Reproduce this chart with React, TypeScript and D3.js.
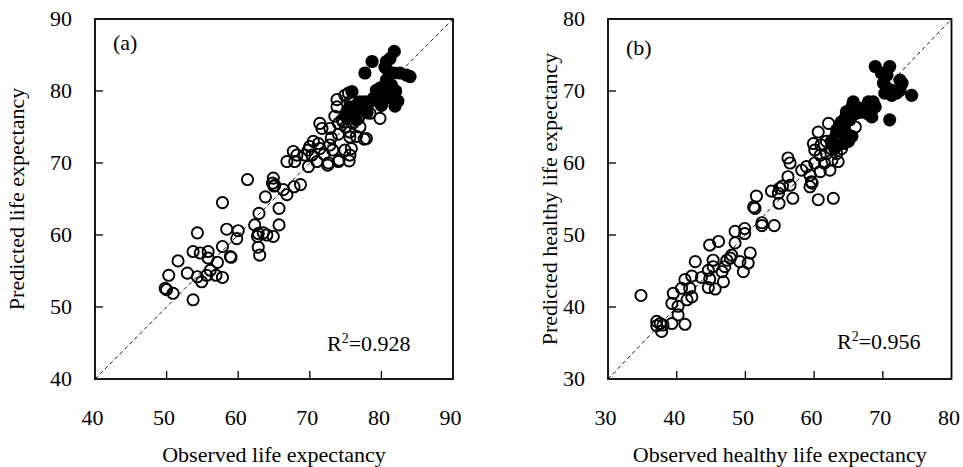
import { scaleLinear } from "d3";

type Pt = [number, number];

// panel (a): life expectancy, [observed, predicted]
const leOpen: Pt[] = [
  [49.8, 52.6], [50.0, 52.4], [50.9, 51.9], [53.7, 51.0], [50.3, 54.4], [51.6, 56.4],
  [52.9, 54.7], [54.3, 54.2], [54.9, 53.5], [56.1, 55.1], [55.6, 54.4], [56.9, 54.4],
  [57.8, 54.1], [53.7, 57.7], [54.7, 57.5], [55.8, 57.7], [55.8, 56.8], [57.1, 56.2],
  [58.9, 57.0], [59.0, 56.9], [57.8, 58.4], [54.3, 60.3], [58.4, 60.8], [60.0, 60.6],
  [59.8, 59.5], [62.8, 60.2], [63.5, 60.3], [64.0, 60.0], [64.9, 59.8], [62.7, 59.8],
  [62.8, 58.3], [63.0, 57.2], [62.3, 61.4], [65.7, 61.4], [62.9, 63.0], [65.7, 63.7],
  [57.8, 64.5], [63.8, 65.3], [61.3, 67.7], [64.8, 67.2], [65.0, 66.8], [66.3, 66.3],
  [66.8, 65.6], [67.8, 66.7], [68.7, 67.0], [64.9, 67.9], [65.1, 66.9],
  [66.8, 70.2], [67.9, 70.2], [67.7, 71.6], [68.2, 71.1], [69.3, 71.1], [69.8, 71.8],
  [70.3, 71.1], [69.8, 69.5], [71.0, 70.2], [71.2, 72.7], [71.4, 72.0], [72.5, 69.7],
  [72.6, 70.0], [72.8, 72.5], [74.1, 70.4], [74.0, 70.2], [75.5, 70.3], [74.9, 71.8],
  [75.8, 72.0], [75.6, 71.1], [71.4, 75.5], [71.7, 74.8], [72.8, 74.8], [74.0, 75.5],
  [74.7, 75.7], [75.6, 74.3], [76.5, 73.7], [77.6, 73.3], [77.9, 73.4], [73.8, 78.8],
  [73.8, 77.8], [75.6, 78.5], [75.4, 79.7], [74.9, 79.4], [78.4, 76.9], [79.8, 76.2],
  [73.5, 76.5], [74.5, 76.0], [75.0, 75.0], [76.0, 75.5], [76.8, 76.2], [73.0, 73.5],
  [74.0, 74.0], [70.5, 73.0], [70.0, 72.3], [72.0, 71.2], [73.2, 71.8], [76.0, 77.0],
  [77.0, 75.0], [75.6, 73.6],
];

const leFilled: Pt[] = [
  [81.8, 85.5], [80.7, 84.1], [78.7, 84.1], [77.7, 82.5], [81.0, 82.7], [80.7, 81.5],
  [81.4, 80.8], [80.3, 80.6], [83.5, 82.2], [84.0, 82.0], [81.7, 82.5], [82.6, 82.5],
  [80.3, 79.7], [81.0, 79.2], [81.7, 78.8], [81.9, 78.5], [79.3, 79.4], [78.9, 79.0],
  [78.4, 78.5], [77.7, 78.5], [75.9, 79.9], [79.8, 80.4], [79.3, 80.1], [77.0, 78.5],
  [76.6, 78.1], [77.2, 77.6], [77.9, 77.4], [75.6, 77.8], [75.4, 77.4], [76.1, 76.9],
  [82.3, 78.6], [81.9, 77.9], [80.5, 83.3], [81.2, 84.5], [82.0, 80.0], [80.0, 78.0],
  [78.0, 77.0], [76.5, 76.0], [75.0, 76.5], [80.5, 79.0],
];

// panel (b): healthy life expectancy, [observed, predicted]
const hleOpen: Pt[] = [
  [34.8, 41.6], [37.1, 38.0], [37.6, 37.7], [38.0, 37.5], [37.8, 36.6], [37.1, 37.4],
  [39.3, 37.7], [41.2, 37.6], [40.2, 38.9], [40.2, 40.1], [39.3, 40.5], [39.5, 41.9],
  [41.5, 41.0], [40.7, 42.6], [41.2, 43.8], [41.9, 42.6], [42.2, 41.4], [42.7, 46.3],
  [42.2, 44.3], [43.6, 44.1], [44.6, 45.1], [44.8, 43.9], [44.6, 42.7], [45.6, 42.5],
  [45.3, 46.5], [45.3, 45.6], [46.6, 44.9], [47.0, 45.6], [47.8, 46.8], [46.8, 43.5],
  [44.8, 48.6], [46.1, 49.1], [48.5, 48.9], [48.5, 50.5], [49.9, 50.9], [49.9, 50.2],
  [49.7, 44.9], [50.4, 46.1], [50.7, 47.5], [49.2, 46.3], [48.0, 47.2], [47.3, 46.5],
  [51.2, 53.9], [51.4, 53.7], [51.6, 55.4], [52.4, 51.7], [52.4, 51.3], [54.2, 51.3],
  [53.8, 56.1], [54.8, 55.8], [55.0, 56.5], [55.4, 56.8], [56.5, 56.9], [54.9, 54.4],
  [56.9, 55.1], [59.4, 56.7], [59.7, 57.2], [60.6, 54.9], [62.8, 55.1], [56.2, 60.7],
  [56.5, 60.0], [56.2, 58.1], [58.2, 59.0], [58.9, 59.5], [59.4, 58.3], [59.6, 57.4],
  [59.9, 62.7], [60.1, 61.8], [60.9, 61.1], [61.8, 63.0], [62.1, 65.5], [60.6, 64.3],
  [61.8, 61.3], [62.3, 59.0], [60.9, 58.8], [60.1, 60.0], [63.3, 61.3], [63.5, 60.2],
  [62.6, 60.4], [61.0, 62.5], [62.5, 62.0], [63.0, 63.5], [64.0, 62.0], [61.5, 60.0],
  [64.5, 64.5], [66.0, 65.0], [63.5, 64.0], [65.0, 66.0],
];

const hleFilled: Pt[] = [
  [68.9, 73.4], [71.0, 73.4], [69.8, 72.5], [70.6, 72.2], [72.5, 71.5], [72.8, 71.1],
  [70.1, 71.1], [70.6, 70.4], [71.3, 70.1], [70.3, 69.7], [71.3, 69.4], [72.0, 69.7],
  [72.5, 70.1], [74.2, 69.4], [71.0, 66.0], [65.7, 68.5], [65.5, 67.8], [67.9, 68.5],
  [68.6, 68.5], [68.9, 67.8], [68.1, 67.4], [67.7, 66.9], [68.4, 66.4], [66.7, 67.6],
  [67.2, 67.1], [64.7, 67.1], [64.5, 66.2], [65.2, 66.0], [65.7, 66.7], [63.8, 65.5],
  [64.3, 64.8], [63.3, 64.6], [64.0, 65.7], [63.3, 64.3], [64.5, 63.9], [65.5, 63.7],
  [65.0, 63.0], [64.3, 62.7], [62.5, 63.0], [63.0, 62.0], [66.5, 67.0],
];

const leTicks = [40, 50, 60, 70, 80, 90];
const hleTicks = [30, 40, 50, 60, 70, 80];

const FONT = "'Liberation Serif', 'Times New Roman', serif";

interface PanelProps {
  left: number;
  right: number;
  top: number;
  bottom: number;
  ticks: number[];
  open: Pt[];
  filled: Pt[];
  tag: string;
  tagY: number;
  r2: string;
  r2X: number;
  r2Y: number;
  xTitle: string;
  yTitle: string;
  yTitleX: number;
}

function Panel(p: PanelProps) {
  const dom: [number, number] = [p.ticks[0], p.ticks[p.ticks.length - 1]];
  const x = scaleLinear().domain(dom).range([p.left, p.right]);
  const y = scaleLinear().domain(dom).range([p.bottom, p.top]);
  const tickLen = 8;
  return (
    <g fontFamily={FONT} fill="#000">
      <line
        x1={x(dom[0])}
        y1={y(dom[0])}
        x2={x(dom[1])}
        y2={y(dom[1])}
        stroke="#000"
        strokeWidth={0.9}
        strokeDasharray="4,3"
      />
      {p.open.map(([a, b], i) => (
        <circle key={`o${i}`} cx={x(a)} cy={y(b)} r={5.6} fill="none" stroke="#000" strokeWidth={1.9} />
      ))}
      {p.filled.map(([a, b], i) => (
        <circle key={`f${i}`} cx={x(a)} cy={y(b)} r={6.6} fill="#000" />
      ))}
      <rect
        x={p.left}
        y={p.top}
        width={p.right - p.left}
        height={p.bottom - p.top}
        fill="none"
        stroke="#000"
        strokeWidth={1.8}
      />
      {p.ticks.slice(1, -1).map((t) => (
        <g key={`t${t}`}>
          <line x1={x(t)} x2={x(t)} y1={p.bottom} y2={p.bottom - tickLen} stroke="#000" strokeWidth={1.3} />
          <line x1={p.left} x2={p.left + tickLen} y1={y(t)} y2={y(t)} stroke="#000" strokeWidth={1.3} />
        </g>
      ))}
      {p.ticks.map((t) => (
        <g key={`l${t}`} fontSize={22}>
          <text x={x(t) - 2.5} y={425} textAnchor="middle">
            {t}
          </text>
          <text x={p.left - 23} y={y(t) + 7} textAnchor="end">
            {t}
          </text>
        </g>
      ))}
      <text x={p.left + 18} y={p.tagY} fontSize={22}>
        {p.tag}
      </text>
      <text x={p.r2X} y={p.r2Y} fontSize={22}>
        R<tspan fontSize={14} dy={-8}>2</tspan>
        <tspan dy={8}>={p.r2}</tspan>
      </text>
      <text x={(p.left + p.right) / 2} y={462} fontSize={22} textAnchor="middle">
        {p.xTitle}
      </text>
      <text
        transform={`translate(${p.yTitleX}, ${(p.top + p.bottom) / 2}) rotate(-90)`}
        fontSize={22}
        textAnchor="middle"
      >
        {p.yTitle}
      </text>
    </g>
  );
}

export default function App() {
  return (
    <svg
      width={963}
      height={467}
      style={{ position: "absolute", left: 0, top: 0, background: "#fff" }}
    >
      <Panel
        left={95}
        right={453}
        top={19}
        bottom={379}
        ticks={leTicks}
        open={leOpen}
        filled={leFilled}
        tag="(a)"
        tagY={50}
        r2="0.928"
        r2X={327}
        r2Y={351}
        xTitle="Observed life expectancy"
        yTitle="Predicted life expectancy"
        yTitleX={24}
      />
      <Panel
        left={608}
        right={951.5}
        top={19}
        bottom={379}
        ticks={hleTicks}
        open={hleOpen}
        filled={hleFilled}
        tag="(b)"
        tagY={55}
        r2="0.956"
        r2X={837}
        r2Y={349}
        xTitle="Observed healthy life expectancy"
        yTitle="Predicted healthy life expectancy"
        yTitleX={557}
      />
    </svg>
  );
}
